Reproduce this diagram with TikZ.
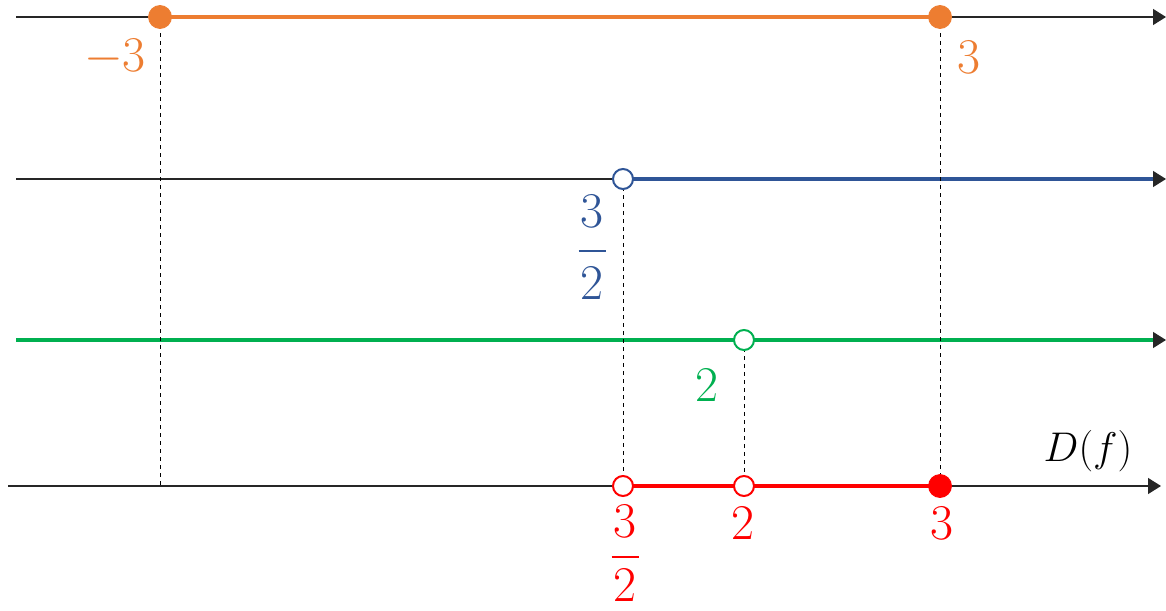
\documentclass[tikz,border=0pt]{standalone}
\usetikzlibrary{arrows.meta}
\definecolor{cor}{HTML}{ED7D31}
\definecolor{cbl}{HTML}{2F5597}
\definecolor{cgr}{HTML}{00B050}
\definecolor{crd}{HTML}{FF0000}
\newcommand{\tallfrac}[4]{\vbox{\offinterlineskip\halign{\hfil##\hfil\cr #1\cr\noalign{\kern#3}\rule{13.5pt}{1pt}\cr\noalign{\kern#4}#2\cr}}}
\begin{document}
\begin{tikzpicture}[x=0.5pt,y=-0.5pt,
  axis/.style={line width=0.65pt, draw=black!85, -{Triangle[length=6.5pt,width=8pt]}},
  seg/.style={line width=1.75pt, draw=#1},
  guide/.style={dash pattern=on 2pt off 2pt, line width=0.5pt, draw=black},
  fulldot/.style={circle, fill=#1, draw=#1, minimum size=11.5pt, inner sep=0pt},
  opendot/.style={circle, fill=white, draw=#1, line width=1pt, minimum size=10pt, inner sep=0pt},
  lab/.style={text=#1, inner sep=0pt, font=\fontsize{25}{30}\selectfont}
]
\useasboundingbox (0,0) rectangle (1166,610);

% axis coordinates
\coordinate (a1s) at (16,17);   \coordinate (a1e) at (1166,17);
\coordinate (a2s) at (16,179);  \coordinate (a2e) at (1166,179);
\coordinate (a3s) at (16,340);  \coordinate (a3e) at (1166,340);
\coordinate (a4s) at (8,486);   \coordinate (a4e) at (1161,486);
\coordinate (b2e) at (1153,179);
\coordinate (b3e) at (1153,340);
\coordinate (q1) at (160,486);
\coordinate (q4) at (940,486);

% axes
\draw[axis] (a1s) -- (a1e);
\draw[axis] (a2s) -- (a2e);
\draw[axis] (a3s) -- (a3e);
\draw[axis] (a4s) -- (a4e);

% coloured segments
\coordinate (o1) at (160,17);
\coordinate (o2) at (940,17);
\coordinate (bl) at (623,179);
\coordinate (gr) at (744,340);
\coordinate (r1) at (623,486);
\coordinate (r2) at (744,486);
\coordinate (r3) at (940,486);
\draw[seg=cor] (o1) -- (o2);
\draw[seg=cbl] (bl) -- (b2e);
\draw[seg=cgr] (a3s) -- (b3e);
\draw[seg=crd] (r1) -- (r3);

% guides
\draw[guide] (o1) -- (q1);
\draw[guide] (o2) -- (q4);
\draw[guide] (bl) -- (r1);
\draw[guide] (gr) -- (r2);

% dots
\node[fulldot=cor] (d1) at (o1) {};
\node[fulldot=cor] (d2) at (o2) {};
\node[opendot=cbl] (d3) at (bl) {};
\node[opendot=cgr] (d4) at (gr) {};
\node[opendot=crd] (d5) at (r1) {};
\node[opendot=crd] (d6) at (r2) {};
\node[fulldot=crd] (d7) at (r3) {};

% labels
\node[lab=cor] (l1) at (115,57) {$-$3};
\node[lab=cor] (l2) at (969,57) {3};
\node[lab=cbl] (l3) at (592,247) {\tallfrac{3}{2}{11pt}{7pt}};
\node[lab=cgr] (l4) at (707,385) {2};
\node[lab=crd] (l5) at (625,553) {\tallfrac{3}{2}{9pt}{5.5pt}};
\node[lab=crd] (l6) at (743,523) {2};
\node[lab=crd] (l7) at (942,523) {3};
\node[inner sep=0pt, font=\fontsize{21}{25}\selectfont] (l8) at (1088,451) {$D(f)$};
\end{tikzpicture}
\end{document}
